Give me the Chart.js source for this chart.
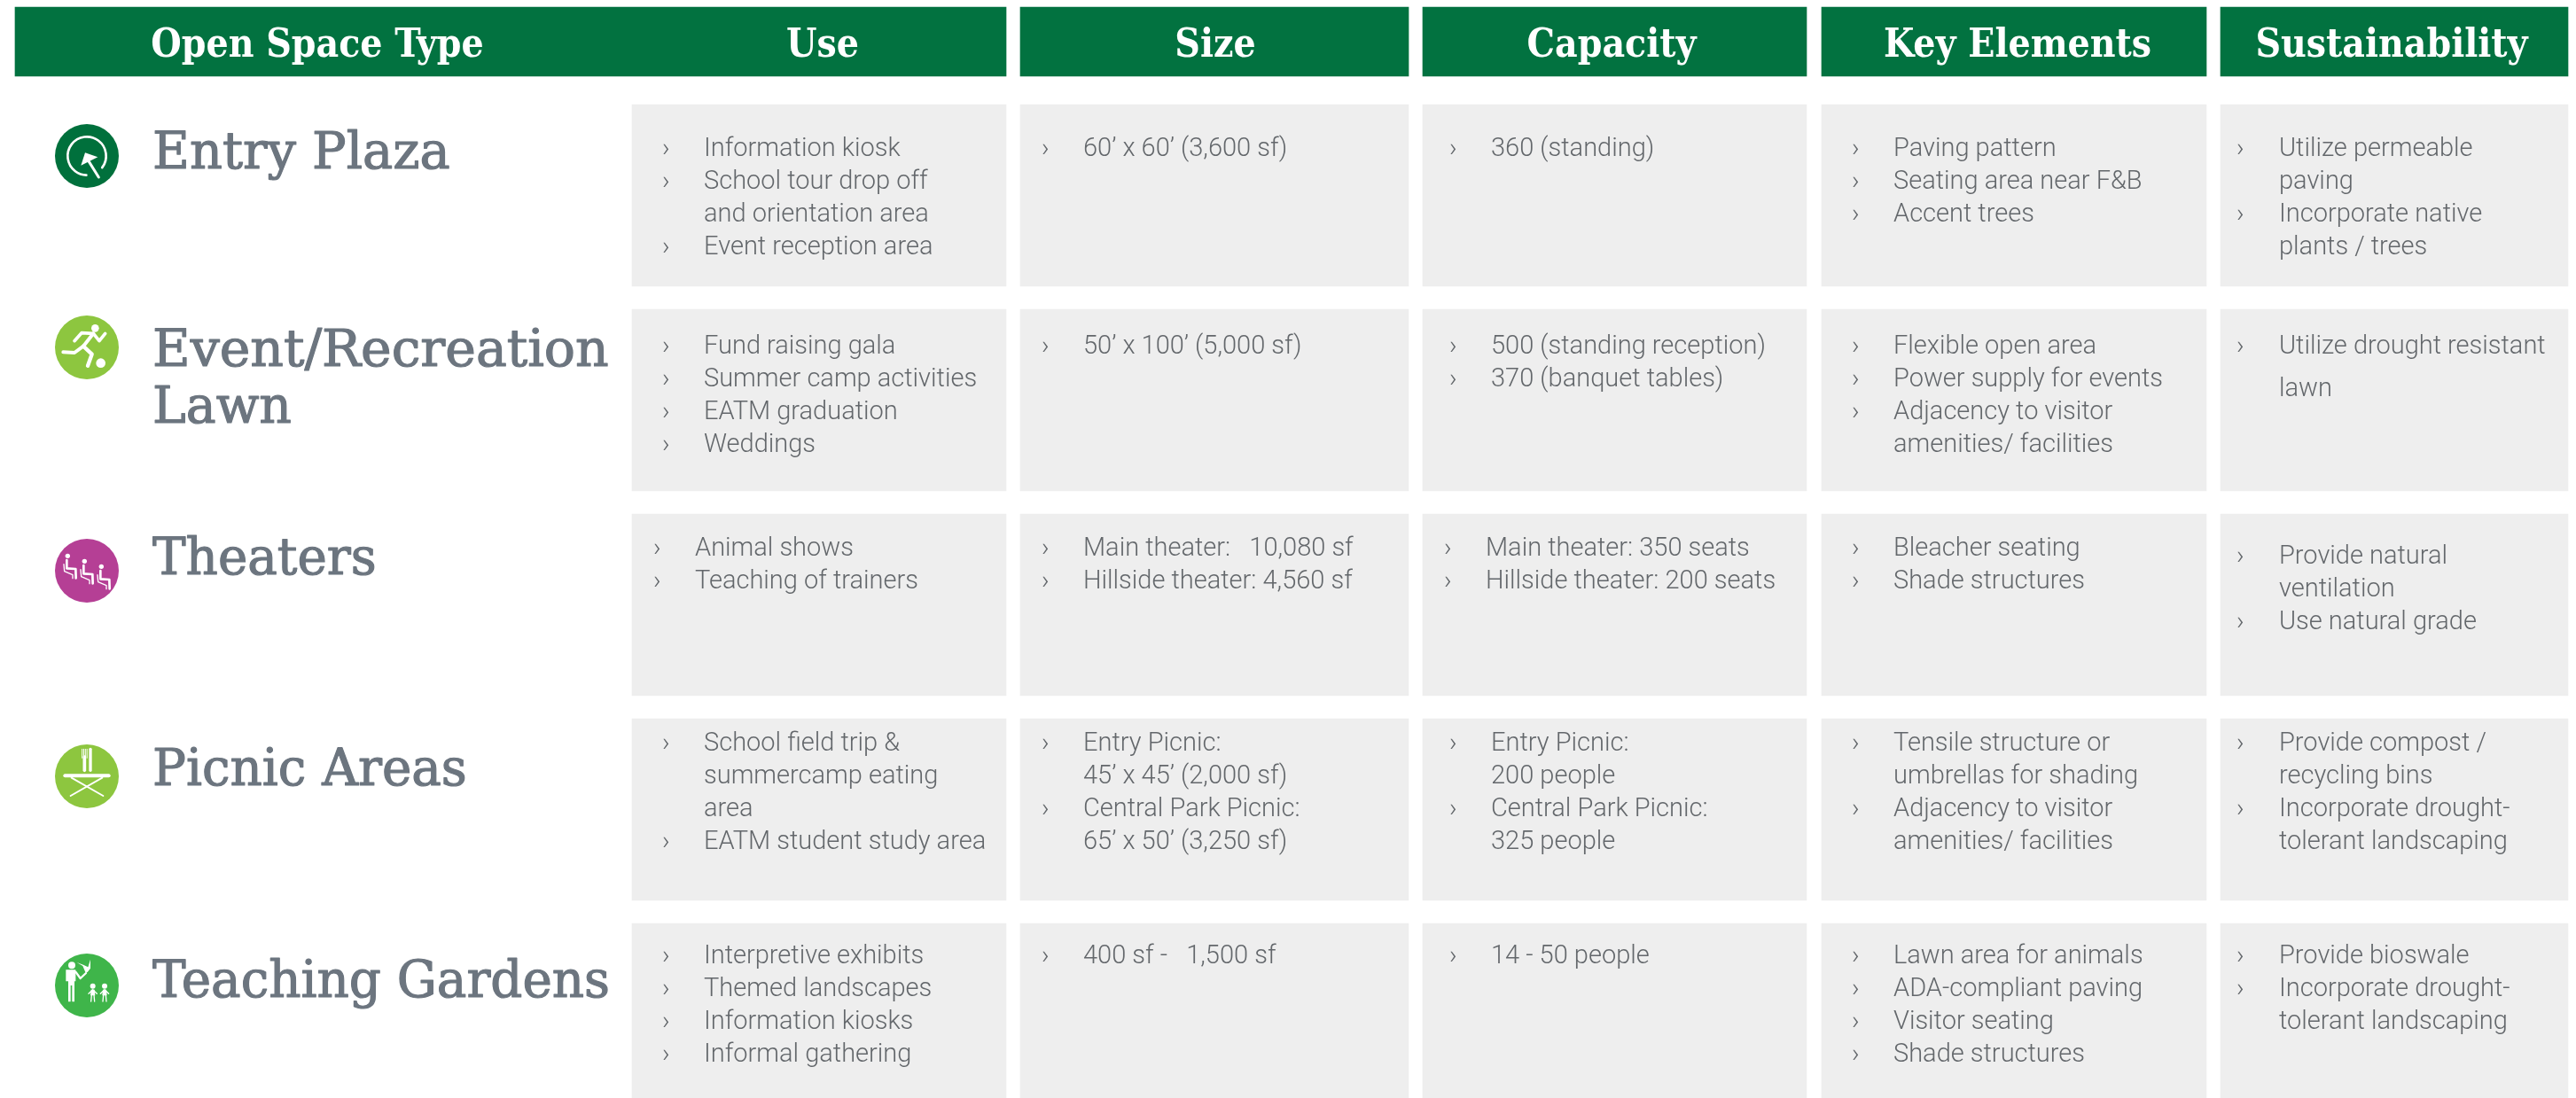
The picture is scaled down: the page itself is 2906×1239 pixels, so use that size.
<!DOCTYPE html>
<html>
<head>
<meta charset="utf-8">
<title>Open Space Types</title>
<script src="https://cdn.jsdelivr.net/npm/chart.js@4"></script>
<style>
	html, body { margin: 0; padding: 0; background: #fff; overflow: hidden; }
	canvas { display: block; }
</style>
</head>
<body>
<canvas id="table_chart" width="2906" height="1239"></canvas>
<script>
// Table content
const header_labels = ["Open Space Type", "Use", "Size", "Capacity", "Key Elements", "Sustainability"];
const space_types = [["Entry Plaza"], ["Event/Recreation", "Lawn"], ["Theaters"], ["Picnic Areas"], ["Teaching Gardens"]];
const icon_names = ["entry", "runner", "seats", "picnic", "teaching"];

const use_items = [
	[["Information kiosk"], ["School tour drop off", "and orientation area"], ["Event reception area"]],
	[["Fund raising gala"], ["Summer camp activities"], ["EATM graduation"], ["Weddings"]],
	[["Animal shows"], ["Teaching of trainers"]],
	[["School field trip &", "summercamp eating", "area"], ["EATM student study area"]],
	[["Interpretive exhibits"], ["Themed landscapes"], ["Information kiosks"], ["Informal gathering"]]
];
const size_items = [
	[["60’ x 60’ (3,600 sf)"]],
	[["50’ x 100’ (5,000 sf)"]],
	[["Main theater:   10,080 sf"], ["Hillside theater: 4,560 sf"]],
	[["Entry Picnic:", "45’ x 45’ (2,000 sf)"], ["Central Park Picnic:", "65’ x 50’ (3,250 sf)"]],
	[["400 sf -   1,500 sf"]]
];
const capacity_items = [
	[["360 (standing)"]],
	[["500 (standing reception)"], ["370 (banquet tables)"]],
	[["Main theater: 350 seats"], ["Hillside theater: 200 seats"]],
	[["Entry Picnic:", "200 people"], ["Central Park Picnic:", "325 people"]],
	[["14 - 50 people"]]
];
const element_items = [
	[["Paving pattern"], ["Seating area near F&B"], ["Accent trees"]],
	[["Flexible open area"], ["Power supply for events"], ["Adjacency to visitor", "amenities/ facilities"]],
	[["Bleacher seating"], ["Shade structures"]],
	[["Tensile structure or", "umbrellas for shading"], ["Adjacency to visitor", "amenities/ facilities"]],
	[["Lawn area for animals"], ["ADA-compliant paving"], ["Visitor seating"], ["Shade structures"]]
];
const sustainability_items = [
	[["Utilize permeable", "paving"], ["Incorporate native", "plants / trees"]],
	[["Utilize drought resistant", "lawn"]],
	[["Provide natural", "ventilation"], ["Use natural grade"]],
	[["Provide compost /", "recycling bins"], ["Incorporate drought-", "tolerant landscaping"]],
	[["Provide bioswale"], ["Incorporate drought-", "tolerant landscaping"]]
];
const column_items = [use_items, size_items, capacity_items, element_items, sustainability_items];

// Layout, in page units (the two linear scales run 1:1 with the canvas)
const header_bars = [[17, 1135], [1151, 1589], [1605, 2038], [2055, 2489], [2505, 2897]];
const cell_bars = [[713, 1135], [1151, 1589], [1605, 2038], [2055, 2489], [2505, 2897]];
const row_centers = [220.5, 451.5, 682.5, 913.5, 1144.5];
const header_center = 47;
const header_label_x = [358, 928, 1371, 1818, 2276, 2698];
const bullet_x = [747, 1175, 1635, 2089, 2523];
const text_x = [794, 1222, 1682, 2136, 2571];
const first_baseline = [176, 399, 627, 847, 1087];
const icon_x = 98;
const icon_y = [176, 392, 644, 876, 1112];
const title_x = 172;
const title_baselines = [[190], [413, 477], [648], [886], [1125]];
const title_stretch = [[1.1], [1.12, 1.09], [1.08], [1.08], [1.08]];
const line_height = 37;

const icon_colors = ["#00703c", "#8dc63f", "#b53f95", "#8dc63f", "#3fb54a"];
const header_color = "#027240";
const cell_color = "#eeeeee";
const title_color = "#6c757f";
const body_color = "#63676b";

const ctx = document.getElementById("table_chart").getContext("2d");

// one-off nudges seen in the picture: [row, column] -> shift
function cellShift(row, col){
	if(row == 2 && col == 0) return {dx: -10, dy: 0};
	if(row == 2 && col == 2) return {dx: -6, dy: 0};
	if(row == 2 && col == 4) return {dx: 0, dy: 9};
	return {dx: 0, dy: 0};
}

function poly(c, pts, width){
	c.lineWidth = width;
	c.beginPath();
	pts.forEach((p, i) => i ? c.lineTo(p[0], p[1]) : c.moveTo(p[0], p[1]));
	c.stroke();
}

function dot(c, x, y, r){
	c.beginPath();
	c.arc(x, y, r, 0, Math.PI * 2);
	c.fill();
}

function shape(c, pts){
	c.beginPath();
	pts.forEach((p, i) => i ? c.lineTo(p[0], p[1]) : c.moveTo(p[0], p[1]));
	c.closePath();
	c.fill();
}

// icon glyphs, drawn around the circle centre in 1/3 px units
const glyphs = {
	entry(c){
		c.lineWidth = 8;
		c.beginPath();
		c.arc(0, 0, 65, 0.65, 1.6, true);
		c.stroke();
		shape(c, [[-6, -11], [37, 4], [-20, 32]]);
		poly(c, [[0, 8], [40, 72]], 9);
	},
	runner(c){
		dot(c, 28, -65, 13);
		dot(c, 47, 53, 16);
		poly(c, [[-42, -22], [-18, -49], [22, -47]], 11);
		poly(c, [[22, -47], [42, -22], [62, -47]], 11);
		poly(c, [[22, -47], [-12, -4], [-42, 18], [-80, 16]], 12);
		poly(c, [[-12, -4], [17, 23], [3, 62]], 13);
	},
	seats(c){
		[[-65, -50], [-8, -32], [49, -14]].forEach(h => {
			dot(c, h[0], h[1], 8);
			poly(c, [[h[0] - 3, h[1] + 14], [h[0] - 3, h[1] + 42], [h[0] + 27, h[1] + 44], [h[0] + 28, h[1] + 75]], 8);
			poly(c, [[h[0] - 13, h[1] + 28], [h[0] - 11, h[1] + 52], [h[0] + 17, h[1] + 64], [h[0] + 17, h[1] + 76]], 4);
		});
	},
	picnic(c){
		poly(c, [[-74, -2], [74, -2]], 12);
		poly(c, [[-52, 5], [55, 66]], 6);
		poly(c, [[52, 5], [-55, 66]], 6);
		[-16, -10.5, -5, 0.5].forEach(x => poly(c, [[x, -92], [x, -62]], 3));
		poly(c, [[-8, -66], [-8, -20]], 11);
		poly(c, [[12, -92], [12, -20]], 10);
	},
	teaching(c){
		dot(c, -51, -68, 12);
		shape(c, [[-71, -53], [-38, -53], [-38, -14], [-42, -14], [-42, 55], [-50, 55], [-50, 0], [-55, 0], [-55, 55], [-63, 55], [-63, -14], [-71, -14]]);
		poly(c, [[-38, -46], [-22, -24], [-3, -42]], 7);
		shape(c, [[-5, -45], [-14, -66], [-34, -78], [-12, -70], [4, -62], [12, -88], [12, -58], [2, -45]]);
		[[20, 2], [60, 2]].forEach(h => {
			dot(c, h[0], h[1], 9);
			poly(c, [[h[0] - 14, h[1] + 26], [h[0], h[1] + 12], [h[0] + 14, h[1] + 26]], 4);
			shape(c, [[h[0] - 6, h[1] + 12], [h[0] + 6, h[1] + 12], [h[0] + 8, h[1] + 32], [h[0] - 8, h[1] + 32]]);
			poly(c, [[h[0] - 4, h[1] + 30], [h[0] - 6, h[1] + 52]], 4);
			poly(c, [[h[0] + 4, h[1] + 30], [h[0] + 6, h[1] + 52]], 4);
		});
	}
};

function squeezedText(c, text, x, y, stretch, outline){
	c.save();
	c.translate(x, y);
	c.scale(stretch, 1);
	c.fillText(text, 0, 0);
	// the original face is a bit heavier than the regular weight here
	if(outline){
		c.lineWidth = outline;
		c.strokeText(text, 0, 0);
	}
	c.restore();
}

const tableText = {
	id: "tableText",
	afterDatasetsDraw(chart){
		const c = chart.ctx, sx = chart.scales.x, sy = chart.scales.y;
		c.save();
		c.textBaseline = "alphabetic";

		// header labels
		c.fillStyle = "#fff";
		c.font = "bold 44px 'DejaVu Serif Condensed', 'DejaVu Serif'";
		c.textAlign = "center";
		header_labels.forEach((label, i) => {
			squeezedText(c, label, sx.getPixelForValue(header_label_x[i]), sy.getPixelForValue(64), 1);
		});

		// icons
		c.fillStyle = "#fff";
		c.strokeStyle = "#fff";
		c.lineCap = "round";
		c.lineJoin = "round";
		icon_names.forEach((name, i) => {
			c.save();
			c.translate(sx.getPixelForValue(icon_x), sy.getPixelForValue(icon_y[i]));
			c.scale(1 / 3, 1 / 3);
			glyphs[name](c);
			c.restore();
		});

		// space type titles
		c.textAlign = "left";
		c.fillStyle = title_color;
		c.strokeStyle = title_color;
		c.font = "58px 'DejaVu Serif Condensed', 'DejaVu Serif'";
		space_types.forEach((lines, i) => {
			lines.forEach((line, j) => {
				squeezedText(c, line, sx.getPixelForValue(title_x), sy.getPixelForValue(title_baselines[i][j]), title_stretch[i][j], 1.1);
			});
		});

		// bulleted cells
		c.fillStyle = body_color;
		c.font = "300 29px Roboto";
		column_items.forEach((rows, col) => {
			rows.forEach((bullets, row) => {
				const shift = cellShift(row, col);
				let y = first_baseline[row] + shift.dy;
				bullets.forEach(bullet => {
					c.fillText("›", sx.getPixelForValue(bullet_x[col] + shift.dx), sy.getPixelForValue(y));
					bullet.forEach((line, k) => {
						// the lawn line sits lower in the original
						if(line == "lawn") y += 11;
						c.fillText(line, sx.getPixelForValue(text_x[col] + shift.dx), sy.getPixelForValue(y));
						y += line_height;
					});
				});
			});
		});
		c.restore();
	}
};

const cell_data = [];
cell_bars.forEach(bar => {
	row_centers.forEach(center => cell_data.push({x: bar, y: center}));
});

new Chart(ctx, {
	type: "bar",
	data: {
		datasets: [{
			label: "Header",
			indexAxis: "y",
			grouped: false,
			data: header_bars.map(bar => ({x: bar, y: header_center})),
			backgroundColor: header_color,
			barThickness: 78
		}, {
			label: "Cells",
			indexAxis: "y",
			grouped: false,
			data: cell_data,
			backgroundColor: cell_color,
			barThickness: 205
		}, {
			type: "scatter",
			label: "Icons",
			data: icon_y.map(y => ({x: icon_x, y: y})),
			backgroundColor: icon_colors,
			borderWidth: 0,
			pointRadius: 36
		}]
	},
	options: {
		responsive: false,
		animation: false,
		layout: {padding: 0, autoPadding: false},
		plugins: {legend: {display: false}, tooltip: {enabled: false}},
		scales: {
			x: {type: "linear", min: 0, max: 2906, offset: false, display: false},
			y: {type: "linear", min: 0, max: 1239, reverse: true, offset: false, display: false}
		}
	},
	plugins: [tableText]
});
</script>
</body>
</html>
